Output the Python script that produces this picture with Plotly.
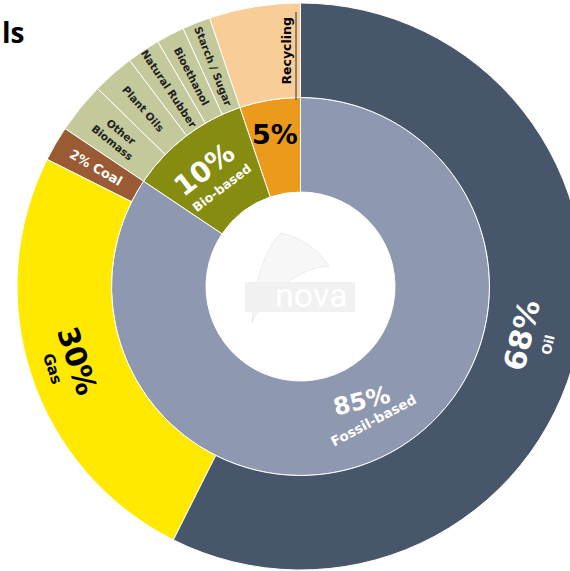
import math
import plotly.graph_objects as go

# ---------------- data (shares of total, %) ----------------
inner_labels = ["Fossil-based", "Bio-based", "Recycling"]
inner_values = [84.4, 10.4, 5.2]
inner_text = ["85%", "10%", "5%"]

fossil_labels = ["Oil", "Gas", "Coal"]
fossil_values = [57.4, 25.0, 2.0]
fossil_text = ["68%", "30%", "2%"]

bio_labels = ["Other<br>Biomass", "Plant Oils", "Natural Rubber", "Bioethanol", "Starch / Sugar"]
bio_values = [2.9, 2.4, 1.9, 1.6, 1.6]

recycling_labels = ["Recycling"]
recycling_values = [5.2]

# ---------------- colours ----------------
inner_colors = ["#8f98b1", "#858c0f", "#ec9a1c"]
fossil_colors = ["#47566b", "#ffe900", "#9a5a34"]
bio_color = "#c4c99b"
recycling_color = "#f9cd97"

# ---------------- build sunburst ----------------
# sunburst lays sectors out counter-clockwise, so feed them in reverse order
total = sum(inner_values)
ids, labels, parents, values, colors = ["root"], [""], [""], [total], ["white"]
for lab, v, c in reversed(list(zip(inner_labels, inner_values, inner_colors))):
    ids.append(lab); labels.append(lab); parents.append("root"); values.append(v); colors.append(c)
for lab, v in reversed(list(zip(recycling_labels, recycling_values))):
    ids.append("Recycling/" + lab); labels.append(lab); parents.append("Recycling"); values.append(v); colors.append(recycling_color)
for lab, v in reversed(list(zip(bio_labels, bio_values))):
    ids.append("Bio-based/" + lab); labels.append(lab); parents.append("Bio-based"); values.append(v); colors.append(bio_color)
for lab, v, c in reversed(list(zip(fossil_labels, fossil_values, fossil_colors))):
    ids.append("Fossil-based/" + lab); labels.append(lab); parents.append("Fossil-based"); values.append(v); colors.append(c)

fig = go.Figure(go.Sunburst(
    ids=ids, labels=labels, parents=parents, values=values,
    branchvalues="total", sort=False, rotation=90,
    marker=dict(colors=colors, line=dict(color="white", width=1)),
    leaf=dict(opacity=1), textinfo="none", hoverinfo="label+value",
))

# ---------------- geometry ----------------
W, H = 600, 571
L, T = 17, 3
D = 567            # sunburst diameter in px


def mids(vals, start=0.0):
    out, cum = [], start
    for v in vals:
        out.append(360.0 * (cum + v / 2) / total)
        cum += v
    return out


inner_mid = mids(inner_values)
fossil_mid = mids(fossil_values)
bio_mid = mids(bio_values, inner_values[0])
rec_mid = mids(recycling_values, inner_values[0] + inner_values[1])


def polar_to_paper(theta, r):
    t = math.radians(theta)
    return 0.5 + r * math.sin(t) / D, 0.5 + r * math.cos(t) / D


def px(X, Y):
    return (X - L) / D, 1 - (Y - T) / D


FONT = "DejaVu Sans"
annotations = []


def add(text, theta, r, angle, size, color, bold=True, family=FONT):
    x, y = polar_to_paper(theta, r)
    annotations.append(dict(
        x=x, y=y, xref="paper", yref="paper", text=("<b>%s</b>" % text) if bold else text,
        showarrow=False, textangle=angle, xanchor="center", yanchor="middle",
        font=dict(family=family, size=size, color=color)))


# Oil / Gas / Coal
add(fossil_text[0], fossil_mid[0] - 1, 227, fossil_mid[0] - 180, 30, "white")
add(fossil_labels[0], fossil_mid[0], 254, fossil_mid[0] - 180, 13, "white")
add(fossil_text[1], fossil_mid[1], 235, fossil_mid[1] - 180, 29, "black")
add(fossil_labels[1], fossil_mid[1], 261, fossil_mid[1] - 180, 15, "black")
add(fossil_text[2] + " " + fossil_labels[2], fossil_mid[2], 237, fossil_mid[2] - 270, 13, "white")

# inner ring
add(inner_text[0], inner_mid[0], 130, -14, 24, "white")
add(inner_labels[0], inner_mid[0] - 0.7, 152, inner_mid[0] - 180, 13.5, "white")
add(inner_text[1], inner_mid[1] - 2, 151, inner_mid[1] - 360, 28, "white")
add(inner_labels[1], inner_mid[1] - 1, 126, inner_mid[1] - 360, 12.5, "white")
add(inner_text[2], inner_mid[2], 154, 0, 27, "black")

# biomass
for lab, th in zip(bio_labels, bio_mid):
    add(lab, th, 237, th - 270, 10.5, "#222222")

# recycling outer
add(recycling_labels[0], rec_mid[0] + 6, 236, -90, 12.5, "black")

# title remnant
tx, ty = px(0, 32)
annotations.append(dict(x=tx, y=ty, xref="paper", yref="paper", text="<b>ls</b>",
                        showarrow=False, xanchor="left", yanchor="middle",
                        font=dict(family="Open Sans", size=28, color="black")))

# watermark
wx, wy = px(311, 295)
annotations.append(dict(x=wx, y=wy, xref="paper", yref="paper", text="nova",
                        showarrow=False, xanchor="center", yanchor="middle",
                        font=dict(family="Roboto", size=34, color="white")))


def path(points):
    s = ""
    for cmd, pts in points:
        s += cmd + " " + " ".join("%.4f,%.4f" % px(*p) for p in pts) + " "
    return s + "Z"


sail = path([("M", [(252, 323)]), ("Q", [(256, 258), (281, 233)]),
             ("Q", [(312, 240), (329, 266)]), ("Q", [(290, 268), (254, 318)])])
r0 = px(245, 282)
r1 = px(355, 312)
shapes = [
    dict(type="path", xref="paper", yref="paper", path=sail,
         fillcolor="#f7f7f7", line=dict(color="#ececec", width=1), layer="above"),
    dict(type="rect", xref="paper", yref="paper",
         x0=r0[0], x1=r1[0], y0=r0[1], y1=r1[1],
         fillcolor="#f1f1f1", line=dict(width=0), layer="above"),
    dict(type="line", xref="paper", yref="paper",
         x0=px(296, 12)[0], x1=px(296, 100)[0], y0=px(296, 12)[1], y1=px(296, 100)[1],
         line=dict(color="#333333", width=1)),
]

fig.update_layout(
    width=W, height=H,
    margin=dict(l=L, r=W - L - D, t=T, b=H - T - D),
    paper_bgcolor="white", plot_bgcolor="white",
    annotations=annotations, shapes=shapes, showlegend=False,
)

fig.write_html("out.html", config={"displayModeBar": False},
               post_script="document.body.style.margin='0';")
